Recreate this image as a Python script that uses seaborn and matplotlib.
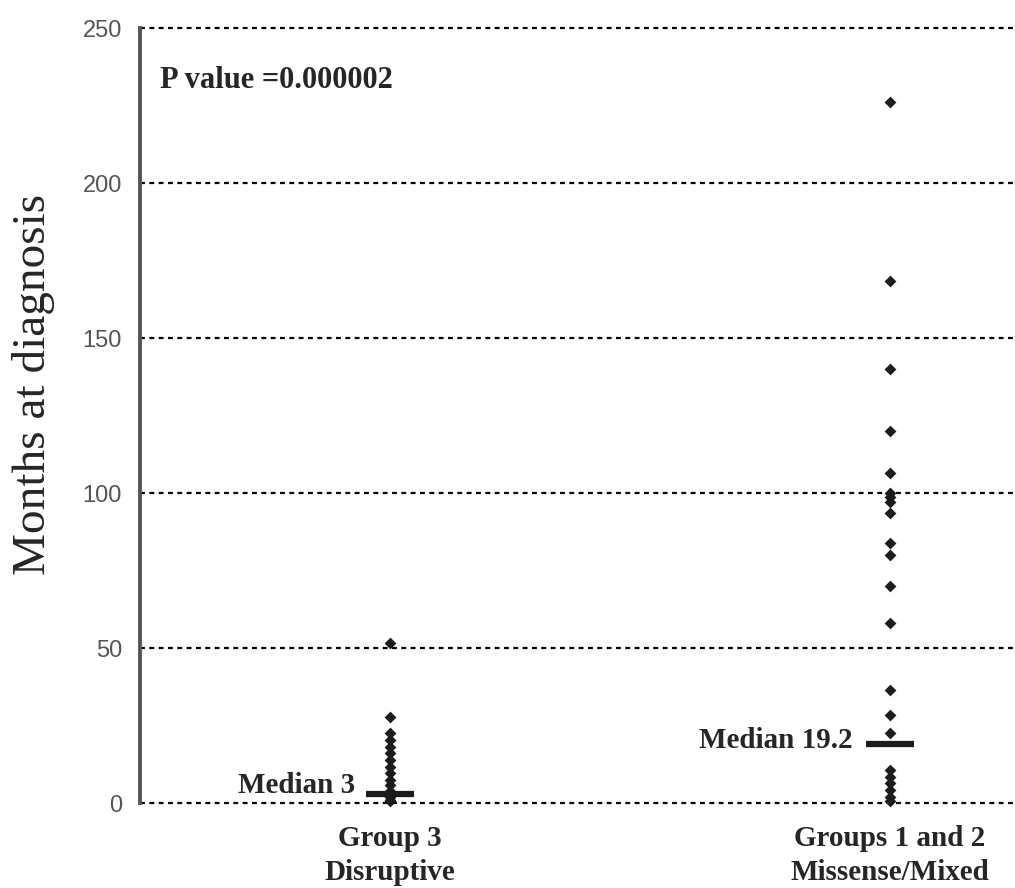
import pandas as pd
import matplotlib
matplotlib.use("Agg")
import matplotlib.pyplot as plt
import seaborn as sns

# values (months at diagnosis)
groups = ["Group 3\nDisruptive", "Groups 1 and 2\nMissense/Mixed"]
group3_months = [51.5, 27.8, 22.5, 20.3, 18.2, 16.0, 13.9, 11.7, 9.6, 7.4,
                 5.8, 4.0, 3.0, 2.0, 1.0, 0.5]
group12_months = [226, 168.5, 140, 120, 106.5, 100, 98.8, 97, 93.5, 84, 80,
                  70, 58, 36.5, 28.4, 22.6, 10.6, 8.5, 6.4, 4.2, 2.0, 0.5]
medians = [3, 19.2]
median_labels = ["Median 3", "Median 19.2"]
p_text = "P value =0.000002"
y_ticks = [0, 50, 100, 150, 200, 250]

sns.set_style("white")
plt.rcParams["font.family"] = ["Liberation Serif", "DejaVu Serif"]

df = pd.DataFrame({
    "group": [groups[0]] * len(group3_months) + [groups[1]] * len(group12_months),
    "months": group3_months + group12_months,
})

fig = plt.figure(figsize=(10.15, 8.88), dpi=100)
ax = fig.add_axes([0.138, 0.0957, 0.862, 0.8727])

# dotted horizontal grid, drawn under the points
for yv in y_ticks:
    ax.axhline(yv, color="black", lw=1.6, ls=(0, (2.2, 2.0)), zorder=1, clip_on=False)

sns.stripplot(data=df, x="group", y="months", order=groups, jitter=False,
              marker="D", size=6, color="#1c1c1c", linewidth=0, ax=ax,
              zorder=3, clip_on=False)

# median bars
for i, m in enumerate(medians):
    ax.hlines(m, i - 0.048, i + 0.048, color="#1c1c1c", lw=4.5, zorder=4)

ax.text(-0.07, 5.8, median_labels[0], ha="right", va="center",
        fontsize=21, fontweight="bold")
ax.text(0.926, 20.3, median_labels[1], ha="right", va="center",
        fontsize=21, fontweight="bold")
ax.text(0.023, 233, p_text, transform=ax.get_yaxis_transform(),
        ha="left", va="center", fontsize=22, fontweight="bold")

ax.set_ylim(0, 250)
ax.set_xlim(-0.5, 1.25)
ax.set_yticks(y_ticks)
ax.set_xlabel("")
ax.set_ylabel("Months at diagnosis", fontsize=34)
ax.yaxis.set_label_coords(-0.097, 0.54)

for side in ["top", "right", "bottom"]:
    ax.spines[side].set_visible(False)
ax.spines["left"].set_color("#555555")
ax.spines["left"].set_linewidth(2.8)

ax.tick_params(axis="y", direction="out", length=7, width=1.5, color="#333333",
               labelsize=17, labelcolor="#555555", pad=6)
for lab in ax.get_yticklabels():
    lab.set_family(["Liberation Sans", "DejaVu Sans"])
ax.tick_params(axis="x", length=0, pad=16, labelsize=21)
for lab in ax.get_xticklabels():
    lab.set_fontweight("bold")
    lab.set_linespacing(1.3)

fig.savefig("out.png", dpi=100)
plt.close(fig)
